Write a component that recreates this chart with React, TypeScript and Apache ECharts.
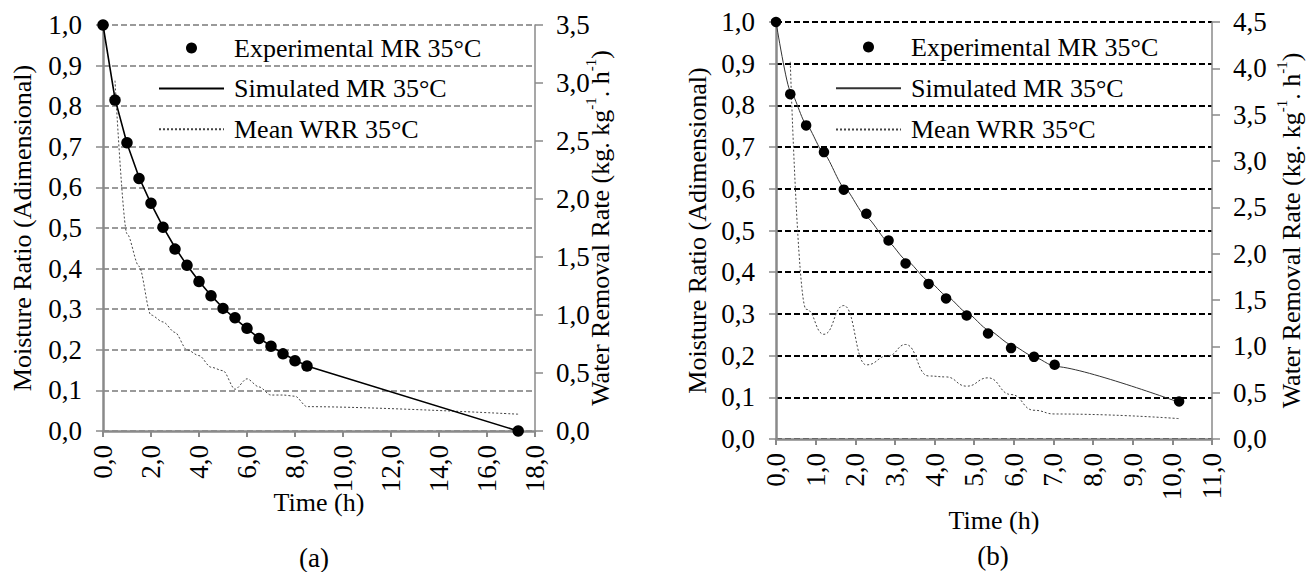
import React, { useEffect, useRef } from "react";
import * as echarts from "echarts";

// ---------- Data: chart (a) ----------
const timeA = [0, 0.5, 1.0, 1.5, 2.0, 2.5, 3.0, 3.5, 4.0, 4.5, 5.0, 5.5, 6.0, 6.5, 7.0, 7.5, 8.0, 8.5, 17.3];
const expMRA = [1.0, 0.815, 0.71, 0.622, 0.561, 0.502, 0.448, 0.408, 0.368, 0.333, 0.302, 0.279, 0.253, 0.228, 0.209, 0.19, 0.173, 0.16, 0.0];
const simMRA = [1.0, 0.818, 0.708, 0.625, 0.56, 0.503, 0.452, 0.408, 0.369, 0.334, 0.303, 0.277, 0.252, 0.229, 0.209, 0.191, 0.175, 0.16, 0.0];
const wrrTimeA = [0.5, 1.0, 1.5, 2.0, 2.5, 3.0, 3.5, 4.0, 4.5, 5.0, 5.5, 6.0, 6.5, 7.0, 7.5, 8.0, 8.5, 17.3];
const wrrA = [3.02, 1.7, 1.42, 1.0, 0.94, 0.85, 0.7, 0.65, 0.55, 0.52, 0.36, 0.45, 0.38, 0.31, 0.31, 0.3, 0.21, 0.145];

// ---------- Data: chart (b) ----------
const timeB = [0, 0.36, 0.76, 1.21, 1.71, 2.28, 2.84, 3.27, 3.85, 4.29, 4.81, 5.35, 5.93, 6.51, 7.03, 10.17];
const expMRB = [1.0, 0.827, 0.752, 0.688, 0.598, 0.54, 0.476, 0.421, 0.372, 0.337, 0.296, 0.253, 0.218, 0.197, 0.178, 0.09];
const simMRB = [1.0, 0.835, 0.755, 0.684, 0.604, 0.532, 0.472, 0.43, 0.379, 0.344, 0.303, 0.262, 0.226, 0.197, 0.174, 0.088];
const wrrTimeB = [0.36, 0.76, 1.21, 1.71, 2.28, 2.84, 3.27, 3.85, 4.29, 4.81, 5.35, 5.93, 6.51, 7.03, 10.17];
const wrrB = [4.07, 1.4, 1.13, 1.44, 0.8, 0.9, 1.02, 0.68, 0.67, 0.57, 0.66, 0.48, 0.31, 0.27, 0.22];

const seriesNames = ["Experimental MR 35°C", "Simulated MR 35°C", "Mean WRR 35°C"];
const leftAxisName = "Moisture Ratio (Adimensional)";
const xAxisName = "Time (h)";

const FONT = "Liberation Serif";
const fmt = (v: number) => v.toFixed(1).replace(".", ",");
const zip = (xs: number[], ys: number[]) => xs.map((x, i) => [x, ys[i]]);

type Cfg = {
  gridLeft: number; gridTop: number; gridW: number; gridH: number;
  xMax: number; xInterval: number; rMax: number;
  time: number[]; exp: number[]; sim: number[]; wrrTime: number[]; wrr: number[];
  gridColor: string; simColor: string; simWidth: number; symbolSize: number; simSmooth: number;
  legendLeft: number; legendTop: number; legendGap: number;
  yNameGap: number; rNameGap: number; xNameGap: number;
  caption: string; capX: number; capY: number;
  wrrSmooth: number;
};

function buildOption(c: Cfg) {
  const axisGray = "#8a8a8a";
  const label = { color: "#000", fontSize: 27, fontFamily: FONT };
  return {
    animation: false,
    textStyle: { fontFamily: FONT },
    grid: { left: c.gridLeft, top: c.gridTop, width: c.gridW, height: c.gridH, containLabel: false },
    legend: {
      orient: "vertical",
      left: c.legendLeft,
      top: c.legendTop,
      padding: 0,
      itemWidth: 65,
      itemHeight: 11,
      itemGap: c.legendGap,
      data: [
        { name: seriesNames[0] },
        { name: seriesNames[1], itemStyle: { opacity: 0 } },
        { name: seriesNames[2], itemStyle: { opacity: 0 } },
      ],
      textStyle: { color: "#000", fontFamily: FONT, fontSize: 26, lineHeight: 26, padding: [0, 0, 0, 5] },
    },
    xAxis: {
      type: "value",
      min: 0,
      max: c.xMax,
      interval: c.xInterval,
      name: xAxisName,
      nameLocation: "middle",
      nameGap: c.xNameGap,
      nameMoveOverlap: false,
      nameTextStyle: { color: "#000", fontFamily: FONT, fontSize: 26 },
      axisLine: { show: true, lineStyle: { color: axisGray, width: 2.5 } },
      axisTick: { show: true, length: 6, lineStyle: { color: axisGray, width: 2 } },
      axisLabel: { ...label, rotate: 90, margin: 14, formatter: fmt },
      splitLine: { show: false },
    },
    yAxis: [
      {
        type: "value",
        position: "left",
        min: 0,
        max: 1,
        interval: 0.1,
        name: leftAxisName,
        nameLocation: "middle",
        nameRotate: 90,
        nameGap: c.yNameGap,
        nameMoveOverlap: false,
        nameTextStyle: { color: "#000", fontFamily: FONT, fontSize: 26 },
        axisLine: { show: true, lineStyle: { color: axisGray, width: 2.5 } },
        axisTick: { show: true, length: 7, lineStyle: { color: axisGray, width: 1.5 } },
        axisLabel: { ...label, margin: 21, formatter: fmt },
        splitLine: { show: true, lineStyle: { color: c.gridColor, type: [6, 3], width: 2 } },
      },
      {
        type: "value",
        position: "right",
        min: 0,
        max: c.rMax,
        interval: 0.5,
        name: "{n|Water Removal Rate (kg. kg}{s|-1}{n|. h}{s|-1}{n|)}",
        nameLocation: "middle",
        nameRotate: 90,
        nameGap: c.rNameGap,
        nameMoveOverlap: false,
        nameTextStyle: {
          color: "#000",
          fontFamily: FONT,
          fontSize: 26,
          rich: {
            n: { fontSize: 26, fontFamily: FONT, color: "#000", lineHeight: 30, verticalAlign: "bottom" },
            s: { fontSize: 15, fontFamily: FONT, color: "#000", lineHeight: 30, verticalAlign: "top" },
          },
        },
        axisLine: { show: true, lineStyle: { color: axisGray, width: 1.5 } },
        axisTick: { show: true, length: 8, lineStyle: { color: axisGray, width: 1.5 } },
        axisLabel: { ...label, margin: 21, formatter: fmt },
        splitLine: { show: false },
      },
    ],
    series: [
      {
        type: "scatter",
        name: seriesNames[0],
        data: zip(c.time, c.exp),
        symbol: "circle",
        symbolSize: c.symbolSize,
        itemStyle: { color: "#000", opacity: 1 },
        z: 5,
      },
      {
        type: "line",
        name: seriesNames[1],
        data: zip(c.time, c.sim),
        smooth: c.simSmooth,
        smoothMonotone: "x",
        symbol: "none",
        itemStyle: { color: c.simColor },
        lineStyle: { color: c.simColor, width: c.simWidth },
        z: 4,
      },
      {
        type: "line",
        name: seriesNames[2],
        yAxisIndex: 1,
        data: zip(c.wrrTime, c.wrr),
        smooth: c.wrrSmooth,
        smoothMonotone: "x",
        symbol: "none",
        itemStyle: { color: "#444" },
        lineStyle: { color: "#444", width: 1, type: [2, 2] },
        z: 3,
      },
    ],
    graphic: [
      {
        type: "text",
        x: c.capX,
        y: c.capY,
        style: { text: c.caption, font: `27px ${FONT}`, fill: "#000", align: "center", verticalAlign: "middle" },
      },
    ],
  };
}

const cfgA: Cfg = {
  gridLeft: 103, gridTop: 25, gridW: 432, gridH: 406,
  xMax: 18, xInterval: 2, rMax: 3.5,
  time: timeA, exp: expMRA, sim: simMRA, wrrTime: wrrTimeA, wrr: wrrA,
  gridColor: "#9a9a9a", simColor: "#000", simWidth: 1.6, symbolSize: 11.5, simSmooth: 0,
  legendLeft: 158, legendTop: 35, legendGap: 14.6,
  yNameGap: 68, rNameGap: 48, xNameGap: 58,
  caption: "(a)", capX: 314, capY: 558,
  wrrSmooth: 0.3,
};

const cfgB: Cfg = {
  gridLeft: 120, gridTop: 22, gridW: 442, gridH: 417,
  xMax: 11, xInterval: 1, rMax: 4.5,
  time: timeB, exp: expMRB, sim: simMRB, wrrTime: wrrTimeB, wrr: wrrB,
  gridColor: "#000", simColor: "#333", simWidth: 1, symbolSize: 10.5, simSmooth: 0.2,
  legendLeft: 179, legendTop: 34, legendGap: 15.3,
  yNameGap: 66, rNameGap: 62, xNameGap: 68,
  caption: "(b)", capX: 337, capY: 556,
  wrrSmooth: 0.5,
};

function Chart({ cfg, left }: { cfg: Cfg; left: number }) {
  const ref = useRef<HTMLDivElement>(null);
  useEffect(() => {
    if (!ref.current) return;
    const chart = echarts.init(ref.current, undefined, { renderer: "svg" });
    chart.setOption(buildOption(cfg) as any);
    return () => chart.dispose();
  }, [cfg]);
  return (
    <div
      ref={ref}
      className="serif-chart"
      style={{ position: "absolute", left, top: 0, width: 656, height: 572 }}
    />
  );
}

export default function App() {
  return (
    <div style={{ position: "absolute", left: 0, top: 0, width: 1312, height: 572, background: "#fff" }}>
      <style>{`.serif-chart svg text, .serif-chart svg tspan { font-family: 'Liberation Serif', serif !important; }`}</style>
      <Chart cfg={cfgA} left={0} />
      <Chart cfg={cfgB} left={656} />
    </div>
  );
}
